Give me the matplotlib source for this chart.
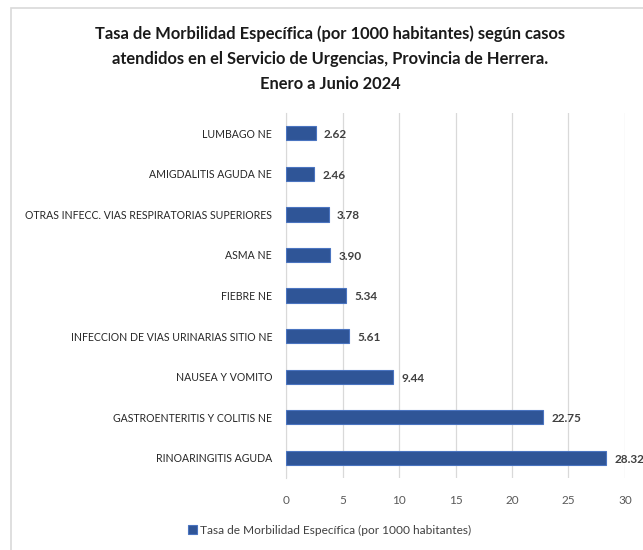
import matplotlib.pyplot as plt
from matplotlib.patches import Rectangle

# datos (de arriba hacia abajo en el grafico)
categorias = ['LUMBAGO NE', 'AMIGDALITIS AGUDA NE',
              'OTRAS INFECC. VIAS RESPIRATORIAS SUPERIORES', 'ASMA NE',
              'FIEBRE NE', 'INFECCION DE VIAS URINARIAS SITIO NE',
              'NAUSEA Y VOMITO', 'GASTROENTERITIS Y COLITIS NE',
              'RINOARINGITIS AGUDA']
tasas = [2.62, 2.46, 3.78, 3.90, 5.34, 5.61, 9.44, 22.75, 28.32]
ticks_x = [0, 5, 10, 15, 20, 25, 30]
serie = 'Tasa de Morbilidad Específica (por 1000 habitantes)'
titulo = ('Tasa de Morbilidad Específica (por 1000 habitantes) según casos\n'
          'atendidos en el Servicio de Urgencias, Provincia de Herrera.\n'
          'Enero a Junio 2024')

plt.rcParams['font.family'] = ['Lato', 'DejaVu Sans']

fig = plt.figure(figsize=(6.43, 5.5), dpi=100)
ax = fig.add_axes([0.4448, 0.1309, 0.5272, 0.6636])

# marco gris del area del grafico
fig.patches.append(Rectangle((11 / 643, -0.1), 1.2, 1.1 - 8 / 550,
                             transform=fig.transFigure, fill=False,
                             edgecolor='#d9d9d9', linewidth=1.2))

pos = list(range(len(categorias)))[::-1]
barras = ax.barh(pos, tasas, height=0.35, color='#2f5597',
                 edgecolor='#4a74c0', linewidth=0.8, label=serie, zorder=3)

for p, v in zip(pos, tasas):
    ax.annotate(f'{v:.2f}', (v, p), xytext=(6, -1), textcoords='offset points',
                ha='left', va='center', fontsize=8.5, fontweight='bold',
                color='#404040', annotation_clip=False)

ax.set_xlim(0, 30)
ax.set_ylim(-0.5, len(categorias) - 0.5)
ax.set_xticks(ticks_x)
ax.set_yticks(pos)
ax.set_yticklabels(categorias)
ax.tick_params(axis='y', length=0, pad=10, labelsize=7.6, labelcolor='#262626')
ax.tick_params(axis='x', length=0, pad=12, labelsize=8.5, labelcolor='#595959')
ax.grid(axis='x', color='#d9d9d9', linewidth=0.9, zorder=0)
for s in ['top', 'right', 'bottom']:
    ax.spines[s].set_visible(False)
ax.spines['left'].set_color('#d9d9d9')

fig.text(0.513, 0.953, titulo, ha='center', va='top', fontsize=11.9,
         fontweight='bold', linespacing=1.68, color='#1a1a1a')

fig.legend(handles=[barras], labels=[serie], loc='center',
           bbox_to_anchor=(0.513, 0.036), frameon=False, fontsize=8.6,
           handlelength=0.7, handleheight=0.7, handletextpad=0.3,
           labelcolor='#404040')

fig.savefig('out.png', dpi=100, facecolor='white')
